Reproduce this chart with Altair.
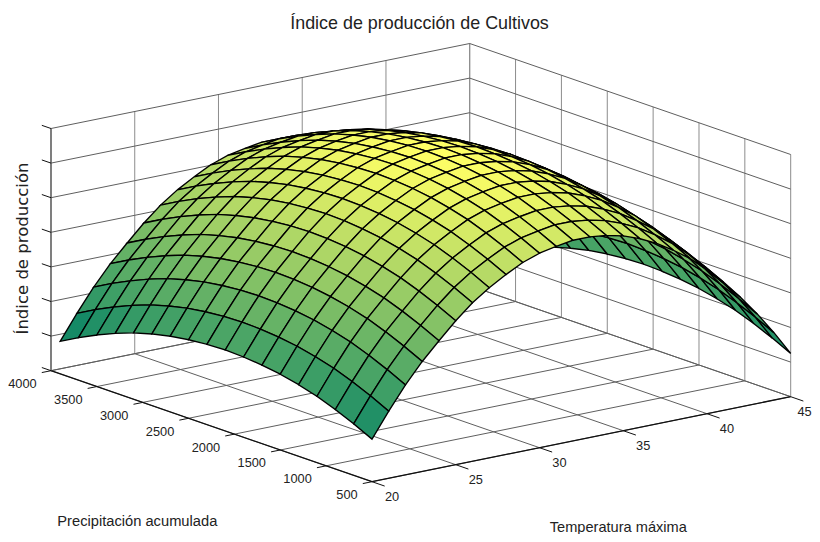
import altair as alt
import pandas as pd

# Values
temps = list(range(20, 46))                       # surface columns (deg)
rains = list(range(500, 4000, 200))               # surface rows (mm)
temp_profile = [1.23, 1.94, 2.60, 3.18, 3.68, 4.16, 4.58, 4.92, 5.20, 5.45, 5.62, 5.72, 5.80,
                5.80, 5.74, 5.63, 5.45, 5.22, 4.92, 4.58, 4.16, 3.70, 3.17, 2.59, 1.95, 1.25]
rain_delta = [0.00, 0.26, 0.49, 0.69, 0.84, 0.96, 1.04, 1.09, 1.11, 1.09, 1.04, 0.96, 0.84,
              0.69, 0.49, 0.26, 0.00, -0.29]
temp_ticks = [20, 25, 30, 35, 40, 45]
rain_ticks = [500, 1000, 1500, 2000, 2500, 3000, 3500, 4000]
z_ticks = [0, 1, 2, 3, 4, 5, 6, 7]
title_text = "Índice de producción de Cultivos"
x_title = "Temperatura máxima"
y_title = "Precipitación acumulada"
z_title = "Índice de producción"

W, H = 804, 526
SANS = "Liberation Sans, Arial"


def proj(t, p, z=0.0):
    """Orthographic view of the box, as in the reference."""
    u, v = (t - 20) / 25, (p - 500) / 3500
    return (372 + 418.7 * u - 321 * v - 8,
            481.7 - 85 * u - 111 * v - z * 34.6 - 8)


def summer(f):
    f = max(0.0, min(1.0, f))
    return "#%02x%02x%02x" % (round(255 * f), round(255 * (0.5 + f / 2)), 102)


zmat = [[tz + rd for rd in rain_delta] for tz in temp_profile]
zmin = min(map(min, zmat))
zmax = max(map(max, zmat))

features = []
for i in range(len(temps) - 2, -1, -1):
    for j in range(len(rains) - 2, -1, -1):
        corners = [(i, j), (i + 1, j), (i + 1, j + 1), (i, j + 1), (i, j)]
        ring = [list(proj(temps[a], rains[b], zmat[a][b])) for a, b in corners]
        zc = sum(zmat[a][b] for a, b in corners[:4]) / 4
        features.append({"type": "Feature",
                         "geometry": {"type": "Polygon", "coordinates": [ring]},
                         "properties": {"c": summer((zc - zmin) / (zmax - zmin))}})

seg_grid, seg_axis = [], []


def seg(store, a, b, color, width):
    store.append({"x": a[0], "y": a[1], "x2": b[0], "y2": b[1], "c": color, "w": width})


G1, G2 = "#5f5f5f", "#8c8c8c"
for t in temp_ticks:
    seg(seg_grid, proj(t, 500), proj(t, 4000), G1, 1)
    seg(seg_grid, proj(t, 4000), proj(t, 4000, 7), G2, 1)
for p in rain_ticks:
    seg(seg_grid, proj(20, p), proj(45, p), G1, 1)
    seg(seg_grid, proj(45, p), proj(45, p, 7), G2, 1)
for z in z_ticks:
    seg(seg_grid, proj(20, 4000, z), proj(45, 4000, z), G1, 1)
    seg(seg_grid, proj(45, 4000, z), proj(45, 500, z), G1, 1)

K = "#111111"
seg(seg_axis, proj(20, 500), proj(20, 4000), K, 1.3)
seg(seg_axis, proj(20, 500), proj(45, 500), K, 1.3)
seg(seg_axis, proj(20, 4000), proj(20, 4000, 7), "#444444", 1.1)
for t in temp_ticks:
    seg(seg_axis, proj(t, 500), proj(t, 362), K, 1)
for p in rain_ticks:
    seg(seg_axis, proj(20, p), proj(19.45, p), K, 1)
for z in z_ticks:
    seg(seg_axis, proj(20, 4000, z), proj(20, 4100, z), K, 1)

rain_labels = [{"x": proj(20, p)[0] - 14.3, "y": proj(20, p)[1] + 13.5, "t": str(p)} for p in rain_ticks]
temp_labels = [{"x": min(proj(t, 500)[0] + 20, 796.5), "y": proj(t, 500)[1] + 15.5, "t": str(t)} for t in temp_ticks]

X = alt.X("x:Q", axis=None, scale=alt.Scale(domain=[0, W], range=[0, W], nice=False, zero=False))
Y = alt.Y("y:Q", axis=None, scale=alt.Scale(domain=[0, H], range=[0, H], nice=False, zero=False))


def rules(rows):
    return alt.Chart(pd.DataFrame(rows)).mark_rule().encode(
        x=X, y=Y, x2="x2:Q", y2="y2:Q",
        color=alt.Color("c:N", scale=None),
        strokeWidth=alt.StrokeWidth("w:Q", scale=None))


def texts(rows, **kw):
    return alt.Chart(pd.DataFrame(rows)).mark_text(**kw).encode(x=X, y=Y, text="t:N")


surface = alt.Chart(alt.Data(values=features, format=alt.DataFormat(type="json"))).mark_geoshape(
    stroke="#000000", strokeWidth=1.35
).encode(fill=alt.Fill(field="properties.c", type="nominal", scale=None)).project(
    type="identity", scale=1, translate=[0, 0])

chart = alt.layer(
    rules(seg_grid),
    surface,
    rules(seg_axis),
    texts(rain_labels, font=SANS, fontSize=12.8, align="right", baseline="middle", color="#222222"),
    texts(temp_labels, font=SANS, fontSize=12.8, align="center", baseline="middle", color="#222222"),
    texts([{"x": 411.5, "y": 16, "t": title_text}], font=SANS, fontSize=17.9, align="center", baseline="middle", color="#222222"),
    texts([{"x": 129.3, "y": 513.7, "t": y_title}], font=SANS, fontSize=14.7, align="center", baseline="middle", color="#222222"),
    texts([{"x": 610.3, "y": 520.3, "t": x_title}], font=SANS, fontSize=14.6, align="center", baseline="middle", color="#222222"),
    texts([{"x": 15, "y": 240.5, "t": z_title}], font="DejaVu Sans", fontSize=16.5, angle=270, align="center", baseline="middle", color="#222222"),
).properties(width=W, height=H, padding=0, autosize=alt.AutoSizeParams(type="none"), background="white"
).configure_view(stroke=None)

chart.save("out.html", embed_options={"renderer": "svg", "actions": False})
